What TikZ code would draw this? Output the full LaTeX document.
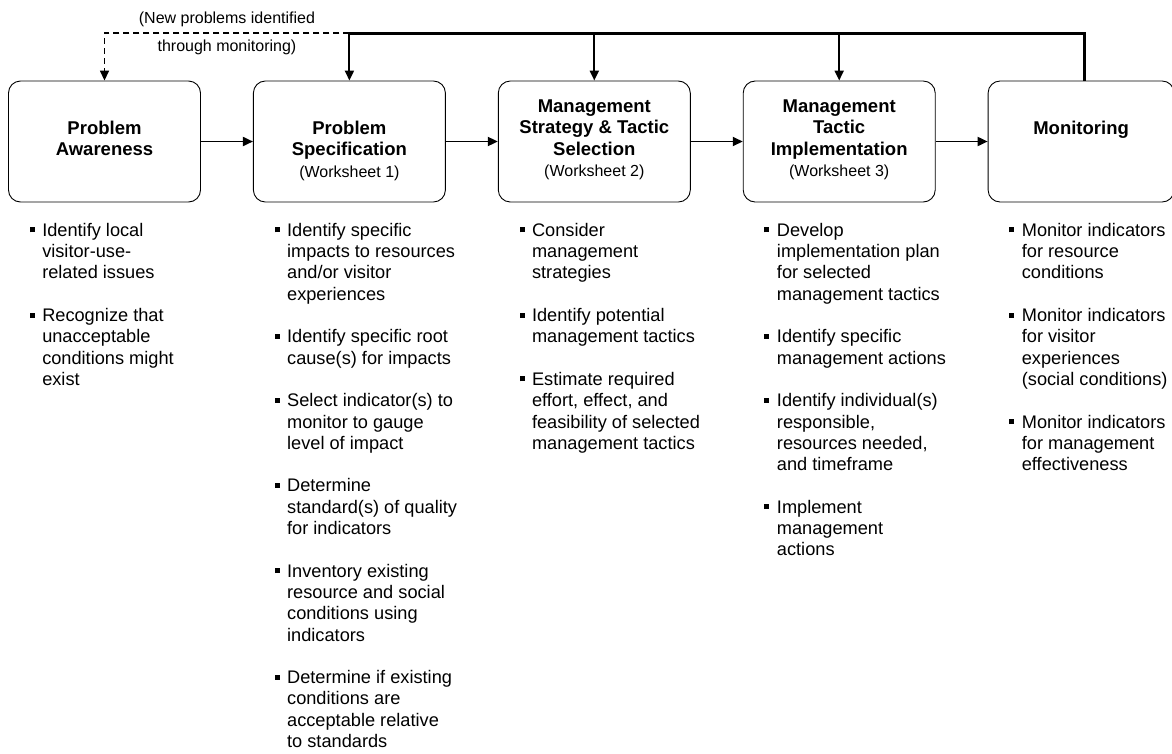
\documentclass[tikz,border=0pt]{standalone}
\usepackage{fontspec}
\setmainfont{Liberation Sans}
\usetikzlibrary{positioning,arrows.meta}
\newcommand{\bul}{\llap{\rule[4pt]{5pt}{5pt}\hspace{7.5pt}}}
\newcommand{\wks}[1]{{\normalfont\fontsize{16}{20}\selectfont (Worksheet #1)}}
\begin{document}
\begin{tikzpicture}[
            x=1pt, y=-1pt,
            phase/.style={draw, line width=0.9pt, rounded corners=12pt, minimum width=192pt, minimum height=121pt},
            title/.style={align=center, inner sep=0pt, font=\bfseries\fontsize{18.5}{21.5}\selectfont},
            items/.style={align=left, inner sep=0pt, font=\fontsize{18.2}{21.3}\selectfont},
            lbl/.style={inner sep=0pt, font=\fontsize{16}{19}\selectfont},
            flow/.style={line width=1.8pt, -{Triangle[length=10pt,width=9pt]}},
            feed/.style={line width=3pt},
            drop/.style={line width=2pt, -{Triangle[length=10pt,width=9pt]}},
            newprob/.style={line width=1.5pt, dash pattern=on 6pt off 4pt, -{Triangle[length=10pt,width=9pt]}}
            ]
        \useasboundingbox (0,0) rectangle (1172,753);
        \node[phase] (p1) at (104.5,141.5) {};
        \node[phase, right=52pt of p1] (p2) {};
        \node[phase, right=52pt of p2] (p3) {};
        \node[phase, right=52pt of p3] (p4) {};
        \node[phase, right=52pt of p4, minimum width=186pt] (p5) {};

        \node[title, below=40pt of p1.north] (t1) {Problem\\Awareness};
        \node[title, below=40pt of p2.north] (t2) {Problem\\Specification\\\wks{1}};
        \node[title, below=19pt of p3.north] (t3) {Management\\Strategy \& Tactic\\Selection\\\wks{2}};
        \node[title, below=19pt of p4.north] (t4) {Management\\Tactic\\Implementation\\\wks{3}};
        \node[title, below=40pt of p5.north] (t5) {Monitoring};

        \draw[flow] (p1) -- (p2);
        \draw[flow] (p2) -- (p3);
        \draw[flow] (p3) -- (p4);
        \draw[flow] (p4) -- (p5);

        \coordinate (top) at (0,33);
        \draw[feed] ([xshift=3pt]p5.north) |- (p2.north |- top);
        \foreach \p in {p2,p3,p4}
            \draw[drop] (\p.north |- top) -- (\p.north);
        \draw[newprob] (p2.north |- top) -| 
            node[lbl, pos=.25, above=5.5pt] (n1) {(New problems identified}
            node[lbl, pos=.25, below=6.5pt] (n2) {through monitoring)} (p1.north);

        \node[items, below right=20.5pt and 34pt of p1.south west] (l1) {\bul Identify local\\visitor-use-\\related issues\\[21.3pt]
            \bul Recognize that\\unacceptable\\conditions might\\exist};
        \node[items, below right=20.5pt and 34pt of p2.south west] (l2) {\bul Identify specific\\impacts to resources\\and/or visitor\\experiences\\[21.3pt]
            \bul Identify specific root\\cause(s) for impacts\\[21.3pt]
            \bul Select indicator(s) to\\monitor to gauge\\level of impact\\[21.3pt]
            \bul Determine\\standard(s) of quality\\for indicators\\[21.3pt]
            \bul Inventory existing\\resource and social\\conditions using\\indicators\\[21.3pt]
            \bul Determine if existing\\conditions are\\acceptable relative\\to standards};
        \node[items, below right=20.5pt and 34pt of p3.south west] (l3) {\bul Consider\\management\\strategies\\[21.3pt]
            \bul Identify potential\\management tactics\\[21.3pt]
            \bul Estimate required\\effort, effect, and\\feasibility of selected\\management tactics};
        \node[items, below right=20.5pt and 34pt of p4.south west] (l4) {\bul Develop\\implementation plan\\for selected\\management tactics\\[21.3pt]
            \bul Identify specific\\management actions\\[21.3pt]
            \bul Identify individual(s)\\responsible,\\resources needed,\\and timeframe\\[21.3pt]
            \bul Implement\\management\\actions};
        \node[items, below right=20.5pt and 34pt of p5.south west] (l5) {\bul Monitor indicators\\for resource\\conditions\\[21.3pt]
            \bul Monitor indicators\\for visitor\\experiences\\(social conditions)\\[21.3pt]
            \bul Monitor indicators\\for management\\effectiveness};
        \end{tikzpicture}
\end{document}
